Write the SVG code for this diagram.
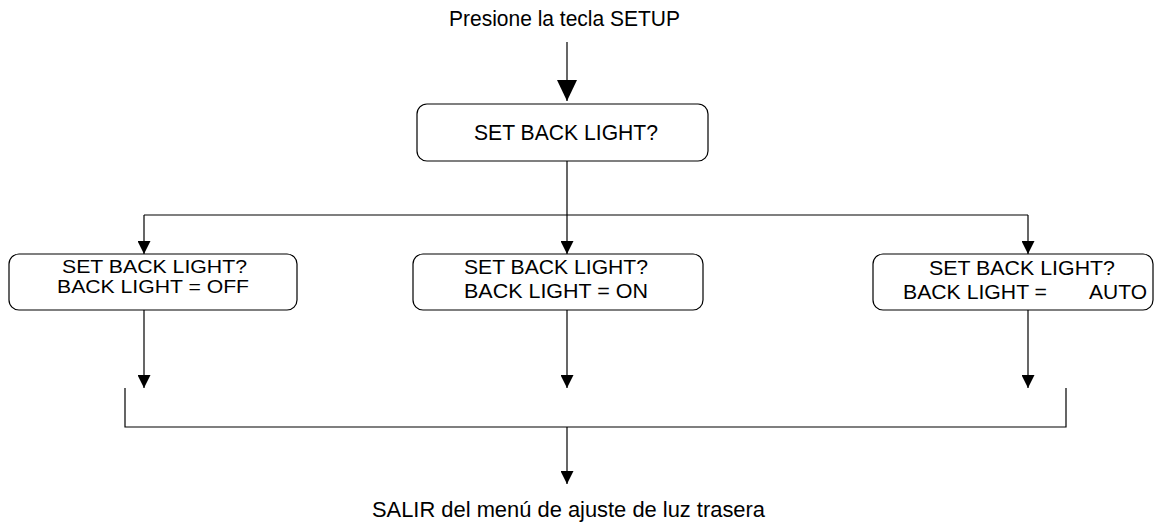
<svg xmlns="http://www.w3.org/2000/svg" width="1154" height="523" viewBox="0 0 1154 523">
<style>
  .box { fill: #fff; stroke: #000; stroke-width: 1.2; }
  .lbl { font-family: "Liberation Sans", Arial, sans-serif; fill: #000; }
  .conn line, .conn path { stroke: #000; stroke-width: 1.2; fill: none; }
</style>
<defs>
  <marker id="arr" markerUnits="userSpaceOnUse" markerWidth="13" markerHeight="13" refX="13" refY="6.5" orient="auto">
    <path d="M0,0 L13,6.5 L0,13 Z" fill="#000"/>
  </marker>
  <marker id="arrBig" markerUnits="userSpaceOnUse" markerWidth="21" markerHeight="20" refX="21" refY="10" orient="auto">
    <path d="M0,0 L21,10 L0,20 Z" fill="#000"/>
  </marker>
</defs>

<g id="start">
  <text class="lbl" x="564.5" y="26" font-size="21.5" text-anchor="middle" textLength="231" lengthAdjust="spacingAndGlyphs">Presione la tecla SETUP</text>
</g>

<g id="top">
  <rect class="box" x="417" y="104" width="291" height="57" rx="10"/>
  <text class="lbl" x="566" y="140" font-size="21.5" text-anchor="middle" textLength="184" lengthAdjust="spacingAndGlyphs">SET BACK LIGHT?</text>
</g>

<g id="off">
  <rect class="box" x="9" y="254" width="288" height="56" rx="10"/>
  <text class="lbl" transform="translate(154.5 273) scale(1 0.85)" font-size="21" text-anchor="middle" textLength="185" lengthAdjust="spacingAndGlyphs">SET BACK LIGHT?</text>
  <text class="lbl" transform="translate(153 293) scale(1 0.85)" font-size="21" text-anchor="middle" textLength="192" lengthAdjust="spacingAndGlyphs">BACK LIGHT = OFF</text>
</g>

<g id="on">
  <rect class="box" x="413" y="254" width="290" height="56" rx="10"/>
  <text class="lbl" transform="translate(556 274) scale(1 0.93)" font-size="21" text-anchor="middle" textLength="184" lengthAdjust="spacingAndGlyphs">SET BACK LIGHT?</text>
  <text class="lbl" transform="translate(556 298) scale(1 0.93)" font-size="21" text-anchor="middle" textLength="184" lengthAdjust="spacingAndGlyphs">BACK LIGHT = ON</text>
</g>

<g id="auto">
  <rect class="box" x="873" y="254" width="280" height="56" rx="10"/>
  <text class="lbl" transform="translate(1022 275) scale(1 0.93)" font-size="21" text-anchor="middle" textLength="186" lengthAdjust="spacingAndGlyphs">SET BACK LIGHT?</text>
  <text class="lbl" transform="translate(903 299) scale(1 0.93)" font-size="21" textLength="144" lengthAdjust="spacingAndGlyphs">BACK LIGHT =</text>
  <text class="lbl" transform="translate(1147 299) scale(1 0.93)" font-size="21" text-anchor="end">AUTO</text>
</g>

<g id="end">
  <text class="lbl" x="372" y="516.5" font-size="22" textLength="393" lengthAdjust="spacingAndGlyphs">SALIR del menú de ajuste de luz trasera</text>
</g>

<g id="connectors" class="conn">
  <line x1="567" y1="42" x2="567" y2="101" marker-end="url(#arrBig)"/>
  <line x1="567" y1="161" x2="567" y2="254" marker-end="url(#arr)"/>
  <line x1="144" y1="215" x2="1028" y2="215"/>
  <line x1="144" y1="215" x2="144" y2="254" marker-end="url(#arr)"/>
  <line x1="1028" y1="215" x2="1028" y2="254" marker-end="url(#arr)"/>
  <line x1="144" y1="310" x2="144" y2="388" marker-end="url(#arr)"/>
  <line x1="567" y1="310" x2="567" y2="388" marker-end="url(#arr)"/>
  <line x1="1028" y1="310" x2="1028" y2="388" marker-end="url(#arr)"/>
  <path d="M125,388 V427 H1066 V388"/>
  <line x1="567" y1="427" x2="567" y2="484" marker-end="url(#arr)"/>
</g>
</svg>
